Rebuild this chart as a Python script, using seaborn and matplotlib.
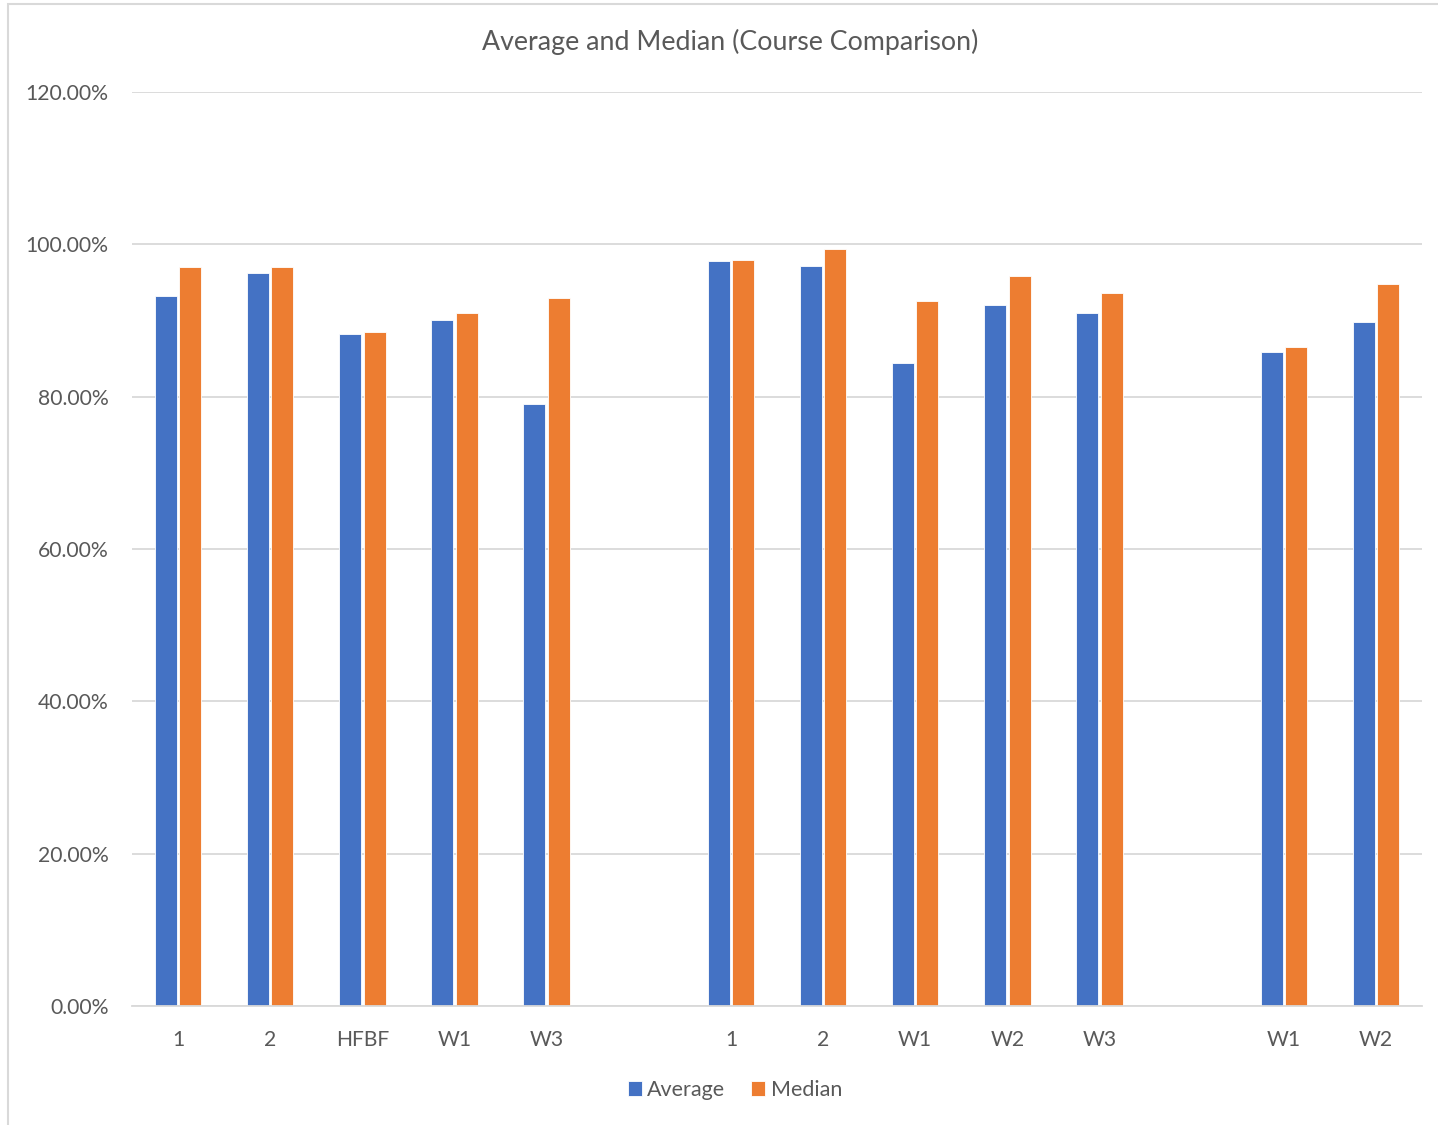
import numpy as np
import pandas as pd
import matplotlib
matplotlib.use("Agg")
import matplotlib.pyplot as plt
from matplotlib.patches import Rectangle
import seaborn as sns

# ==============================
# Data (percent values)
# ==============================
slots = ["a1", "a2", "aHFBF", "aW1", "aW3", "gap1",
         "b1", "b2", "bW1", "bW2", "bW3", "gap2",
         "cW1", "cW2"]
tick_labels = ["1", "2", "HFBF", "W1", "W3", "",
               "1", "2", "W1", "W2", "W3", "",
               "W1", "W2"]
data_slots = ["a1", "a2", "aHFBF", "aW1", "aW3",
              "b1", "b2", "bW1", "bW2", "bW3",
              "cW1", "cW2"]
average = [93.25, 96.2, 88.25, 90.05, 79.1,
           97.8, 97.2, 84.4, 92.0, 91.0,
           85.9, 89.8]
median = [97.0, 97.0, 88.5, 91.0, 93.0,
          97.9, 99.4, 92.55, 95.8, 93.6,
          86.5, 94.8]

series_names = ["Average", "Median"]
colors = ["#4472C4", "#ED7D31"]
text_color = "#595959"
grid_color = "#D9D9D9"

df = pd.DataFrame({
    "slot": data_slots * 2,
    "series": ["Average"] * len(average) + ["Median"] * len(median),
    "value": average + median,
})

# ==============================
# Plot
# ==============================
sns.set_theme(style="white")
plt.rcParams["font.family"] = ["Lato", "DejaVu Sans"]

fig = plt.figure(figsize=(14.38, 11.25), dpi=100)
ax = fig.add_axes([132 / 1438, 1 - 1006 / 1125, 1290 / 1438, 914 / 1125])

sns.barplot(data=df, x="slot", y="value", hue="series", order=slots,
            hue_order=series_names, palette=colors, saturation=1,
            width=0.53, gap=0.1, edgecolor="white", linewidth=0.6,
            ax=ax, legend=True)

ax.set_ylim(0, 120)
yticks = np.arange(0, 121, 20)
ax.set_yticks(yticks)
ax.set_yticklabels([f"{v:.2f}%" for v in yticks], color=text_color, fontsize=15.2)
ax.set_xticks(range(len(slots)))
ax.set_xticklabels(tick_labels, color=text_color, fontsize=15.2)
ax.set_xlim(-0.5, len(slots) - 0.5)
ax.tick_params(axis="y", length=0, pad=17)
ax.tick_params(axis="x", length=0, pad=17)
ax.set_xlabel("")
ax.set_ylabel("")

ax.grid(axis="y", color=grid_color, linewidth=1.3)
ax.set_axisbelow(True)
for side in ["top", "right", "left"]:
    ax.spines[side].set_visible(False)
ax.spines["bottom"].set_color(grid_color)
ax.spines["bottom"].set_linewidth(1.3)

# title centred on the chart area, not the plot area
fig.text(730 / 1438, 1 - 42 / 1125, "Average and Median (Course Comparison)",
         color=text_color, fontsize=19.3, ha="center", va="center")

handles, labels = ax.get_legend_handles_labels()
ax.legend_.remove()
fig.legend(handles, labels, loc="center", bbox_to_anchor=(735 / 1438, 1 - 1090 / 1125),
           ncol=2, frameon=False, fontsize=15.5, labelcolor=text_color,
           handlelength=0.65, handleheight=0.65, handletextpad=0.25,
           columnspacing=1.2)

# chart area border
fig.patches.append(Rectangle((8 / 1438, -0.01), 1.0, 1 - 3.5 / 1125 + 0.01,
                             transform=fig.transFigure, fill=False,
                             edgecolor=grid_color, linewidth=1.5))

fig.savefig("out.png", dpi=100, facecolor="white")
